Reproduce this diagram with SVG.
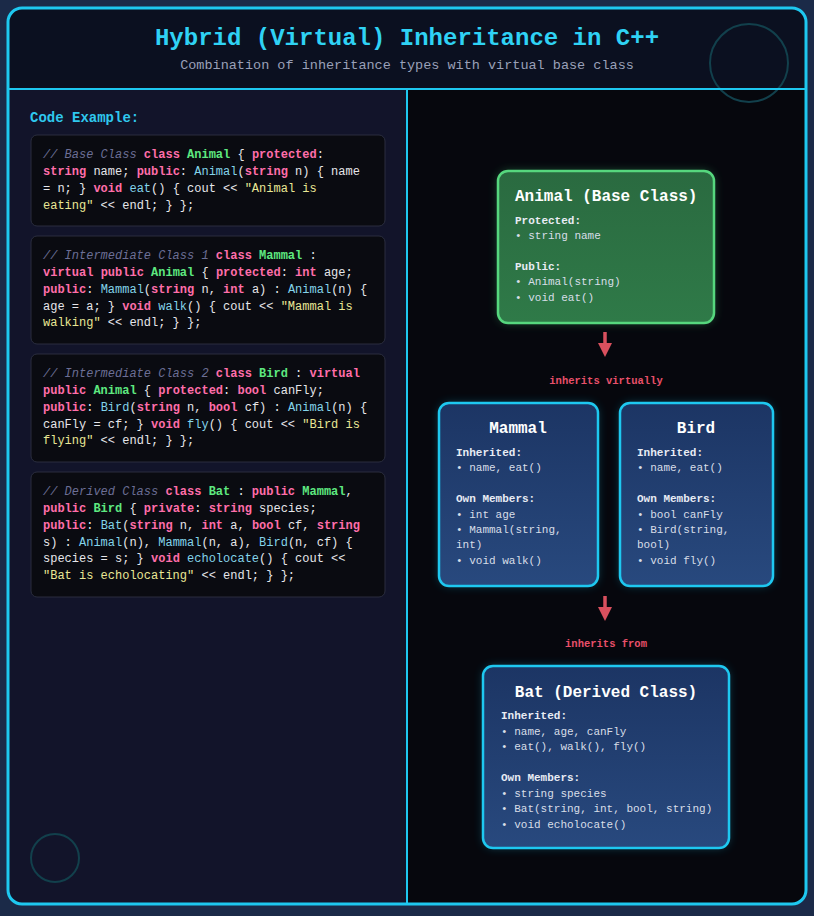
<svg xmlns="http://www.w3.org/2000/svg" width="814" height="916" viewBox="0 0 814 916">
<defs>
<filter id="glow" x="-30%" y="-30%" width="160%" height="160%"><feGaussianBlur stdDeviation="5"/></filter>
<marker id="arr" viewBox="0 0 10 10" refX="5" refY="5" markerWidth="4" markerHeight="4" orient="auto"><path d="M0,0 L10,5 L0,10 z" fill="#d9505e"/></marker>
<linearGradient id="blue" x1="0" y1="0" x2="0" y2="1"><stop offset="0" stop-color="#1c3564"/><stop offset="1" stop-color="#28497e"/></linearGradient>
<linearGradient id="green" x1="0" y1="0" x2="0" y2="1"><stop offset="0" stop-color="#2a6a40"/><stop offset="1" stop-color="#2f7a48"/></linearGradient>
</defs>
<style>
text{font-family:"Liberation Mono","DejaVu Sans Mono",monospace}
.code{font-size:12px;fill:#e6e6ea}
.c{fill:#6c6f96;font-style:italic}
.k{fill:#ff6eaa;font-weight:bold}
.n{fill:#5ee880;font-weight:bold}
.f{fill:#84d4ea}
.s{fill:#e9e795}
.blk{fill:#0a0b11;stroke:#2a2d3e;stroke-width:1}
.ttl{font-size:16px;font-weight:bold;fill:#ffffff}
.hd{font-size:11px;font-weight:bold;fill:#e8ecf4}
.bd{font-size:11px;fill:#d8dee8}
.lbl{font-size:10.5px;font-weight:bold;fill:#e8506a;text-anchor:middle}
</style>
<rect width="814" height="916" fill="#1b2a48"/>
<rect x="8" y="8" width="798" height="896" rx="14" fill="#06070d"/>
<path d="M9,89 H407 V903 H22 A13,13 0 0 1 9,890 Z" fill="#12142a"/>
<path d="M22,9 H792 A13,13 0 0 1 805,22 V89 H9 V22 A13,13 0 0 1 22,9 Z" fill="#0b1020"/>
<circle cx="749" cy="63" r="39" fill="none" stroke="#12404c" stroke-width="2"/>
<circle cx="55" cy="858" r="24" fill="none" stroke="#12404c" stroke-width="2"/>
<line x1="9" y1="89" x2="805" y2="89" stroke="#1ec8f0" stroke-width="2"/>
<line x1="407" y1="89" x2="407" y2="903" stroke="#1ec8f0" stroke-width="2"/>
<rect x="8" y="8" width="798" height="896" rx="14" fill="none" stroke="#1ec8f0" stroke-width="3"/>
<g id="header">
<text x="407" y="45" text-anchor="middle" font-size="24" font-weight="bold" fill="#2fd2f4">Hybrid (Virtual) Inheritance in C++</text>
<text x="407" y="69" text-anchor="middle" font-size="13.5" fill="#9aa0b8">Combination of inheritance types with virtual base class</text>
</g>
<g id="code">
<text x="30" y="122" font-size="14" font-weight="bold" fill="#2fc8ee">Code Example:</text>
<rect class="blk" x="31" y="135" width="354" height="91" rx="6"/>
<text class="code" x="43" y="158"><tspan class="c">// Base Class</tspan> <tspan class="k">class</tspan> <tspan class="n">Animal</tspan> { <tspan class="k">protected</tspan>:</text>
<text class="code" x="43" y="175"><tspan class="k">string</tspan> name; <tspan class="k">public</tspan>: <tspan class="f">Animal</tspan>(<tspan class="k">string</tspan> n) { name</text>
<text class="code" x="43" y="192">= n; } <tspan class="k">void</tspan> <tspan class="f">eat</tspan>() { cout &lt;&lt; <tspan class="s">"Animal is</tspan></text>
<text class="code" x="43" y="209"><tspan class="s">eating"</tspan> &lt;&lt; endl; } };</text>

<rect class="blk" x="31" y="236" width="354" height="108" rx="6"/>
<text class="code" x="43" y="259"><tspan class="c">// Intermediate Class 1</tspan> <tspan class="k">class</tspan> <tspan class="n">Mammal</tspan> :</text>
<text class="code" x="43" y="276"><tspan class="k">virtual</tspan> <tspan class="k">public</tspan> <tspan class="n">Animal</tspan> { <tspan class="k">protected</tspan>: <tspan class="k">int</tspan> age;</text>
<text class="code" x="43" y="293"><tspan class="k">public</tspan>: <tspan class="f">Mammal</tspan>(<tspan class="k">string</tspan> n, <tspan class="k">int</tspan> a) : <tspan class="f">Animal</tspan>(n) {</text>
<text class="code" x="43" y="310">age = a; } <tspan class="k">void</tspan> <tspan class="f">walk</tspan>() { cout &lt;&lt; <tspan class="s">"Mammal is</tspan></text>
<text class="code" x="43" y="326"><tspan class="s">walking"</tspan> &lt;&lt; endl; } };</text>

<rect class="blk" x="31" y="354" width="354" height="108" rx="6"/>
<text class="code" x="43" y="377"><tspan class="c">// Intermediate Class 2</tspan> <tspan class="k">class</tspan> <tspan class="n">Bird</tspan> : <tspan class="k">virtual</tspan></text>
<text class="code" x="43" y="394"><tspan class="k">public</tspan> <tspan class="n">Animal</tspan> { <tspan class="k">protected</tspan>: <tspan class="k">bool</tspan> canFly;</text>
<text class="code" x="43" y="411"><tspan class="k">public</tspan>: <tspan class="f">Bird</tspan>(<tspan class="k">string</tspan> n, <tspan class="k">bool</tspan> cf) : <tspan class="f">Animal</tspan>(n) {</text>
<text class="code" x="43" y="428">canFly = cf; } <tspan class="k">void</tspan> <tspan class="f">fly</tspan>() { cout &lt;&lt; <tspan class="s">"Bird is</tspan></text>
<text class="code" x="43" y="444"><tspan class="s">flying"</tspan> &lt;&lt; endl; } };</text>

<rect class="blk" x="31" y="472" width="354" height="125" rx="6"/>
<text class="code" x="43" y="495"><tspan class="c">// Derived Class</tspan> <tspan class="k">class</tspan> <tspan class="n">Bat</tspan> : <tspan class="k">public</tspan> <tspan class="n">Mammal</tspan>,</text>
<text class="code" x="43" y="512"><tspan class="k">public</tspan> <tspan class="n">Bird</tspan> { <tspan class="k">private</tspan>: <tspan class="k">string</tspan> species;</text>
<text class="code" x="43" y="529"><tspan class="k">public</tspan>: <tspan class="f">Bat</tspan>(<tspan class="k">string</tspan> n, <tspan class="k">int</tspan> a, <tspan class="k">bool</tspan> cf, <tspan class="k">string</tspan></text>
<text class="code" x="43" y="546">s) : <tspan class="f">Animal</tspan>(n), <tspan class="f">Mammal</tspan>(n, a), <tspan class="f">Bird</tspan>(n, cf) {</text>
<text class="code" x="43" y="562">species = s; } <tspan class="k">void</tspan> <tspan class="f">echolocate</tspan>() { cout &lt;&lt;</text>
<text class="code" x="43" y="579"><tspan class="s">"Bat is echolocating"</tspan> &lt;&lt; endl; } };</text>
</g>
<g id="connectors">
<line x1="605" y1="332" x2="605" y2="350" stroke="#d9505e" stroke-width="3.5" marker-end="url(#arr)"/>
<text class="lbl" x="606" y="384">inherits virtually</text>
<line x1="605" y1="596" x2="605" y2="614" stroke="#d9505e" stroke-width="3.5" marker-end="url(#arr)"/>
<text class="lbl" x="606" y="647">inherits from</text>
</g>
<g id="animal">
<rect x="498" y="171" width="216" height="152" rx="10" fill="#4ade80" opacity="0.35" filter="url(#glow)"/>
<rect x="498" y="171" width="216" height="152" rx="10" fill="url(#green)" stroke="#56d77e" stroke-width="2.5"/>
<text class="ttl" x="515" y="201">Animal (Base Class)</text>
<text class="hd" x="515" y="224">Protected:</text>
<text class="bd" x="515" y="239">• string name</text>
<text class="hd" x="515" y="270">Public:</text>
<text class="bd" x="515" y="285">• Animal(string)</text>
<text class="bd" x="515" y="301">• void eat()</text>
</g>
<g id="mammal">
<rect x="439" y="403" width="159" height="183" rx="10" fill="#1ec8f0" opacity="0.3" filter="url(#glow)"/>
<rect x="439" y="403" width="159" height="183" rx="10" fill="url(#blue)" stroke="#1ec8f0" stroke-width="2.5"/>
<text class="ttl" x="518" y="433" text-anchor="middle">Mammal</text>
<text class="hd" x="456" y="456">Inherited:</text>
<text class="bd" x="456" y="471">• name, eat()</text>
<text class="hd" x="456" y="502">Own Members:</text>
<text class="bd" x="456" y="518">• int age</text>
<text class="bd" x="456" y="533">• Mammal(string,</text>
<text class="bd" x="456" y="548">int)</text>
<text class="bd" x="456" y="564">• void walk()</text>
</g>
<g id="bird">
<rect x="620" y="403" width="153" height="183" rx="10" fill="#1ec8f0" opacity="0.3" filter="url(#glow)"/>
<rect x="620" y="403" width="153" height="183" rx="10" fill="url(#blue)" stroke="#1ec8f0" stroke-width="2.5"/>
<text class="ttl" x="696" y="433" text-anchor="middle">Bird</text>
<text class="hd" x="637" y="456">Inherited:</text>
<text class="bd" x="637" y="471">• name, eat()</text>
<text class="hd" x="637" y="502">Own Members:</text>
<text class="bd" x="637" y="518">• bool canFly</text>
<text class="bd" x="637" y="533">• Bird(string,</text>
<text class="bd" x="637" y="548">bool)</text>
<text class="bd" x="637" y="564">• void fly()</text>
</g>
<g id="bat">
<rect x="483" y="666" width="246" height="182" rx="10" fill="#1ec8f0" opacity="0.3" filter="url(#glow)"/>
<rect x="483" y="666" width="246" height="182" rx="10" fill="url(#blue)" stroke="#1ec8f0" stroke-width="2.5"/>
<text class="ttl" x="606" y="697" text-anchor="middle">Bat (Derived Class)</text>
<text class="hd" x="501" y="719">Inherited:</text>
<text class="bd" x="501" y="735">• name, age, canFly</text>
<text class="bd" x="501" y="750">• eat(), walk(), fly()</text>
<text class="hd" x="501" y="781">Own Members:</text>
<text class="bd" x="501" y="797">• string species</text>
<text class="bd" x="501" y="812">• Bat(string, int, bool, string)</text>
<text class="bd" x="501" y="828">• void echolocate()</text>
</g>
</svg>
